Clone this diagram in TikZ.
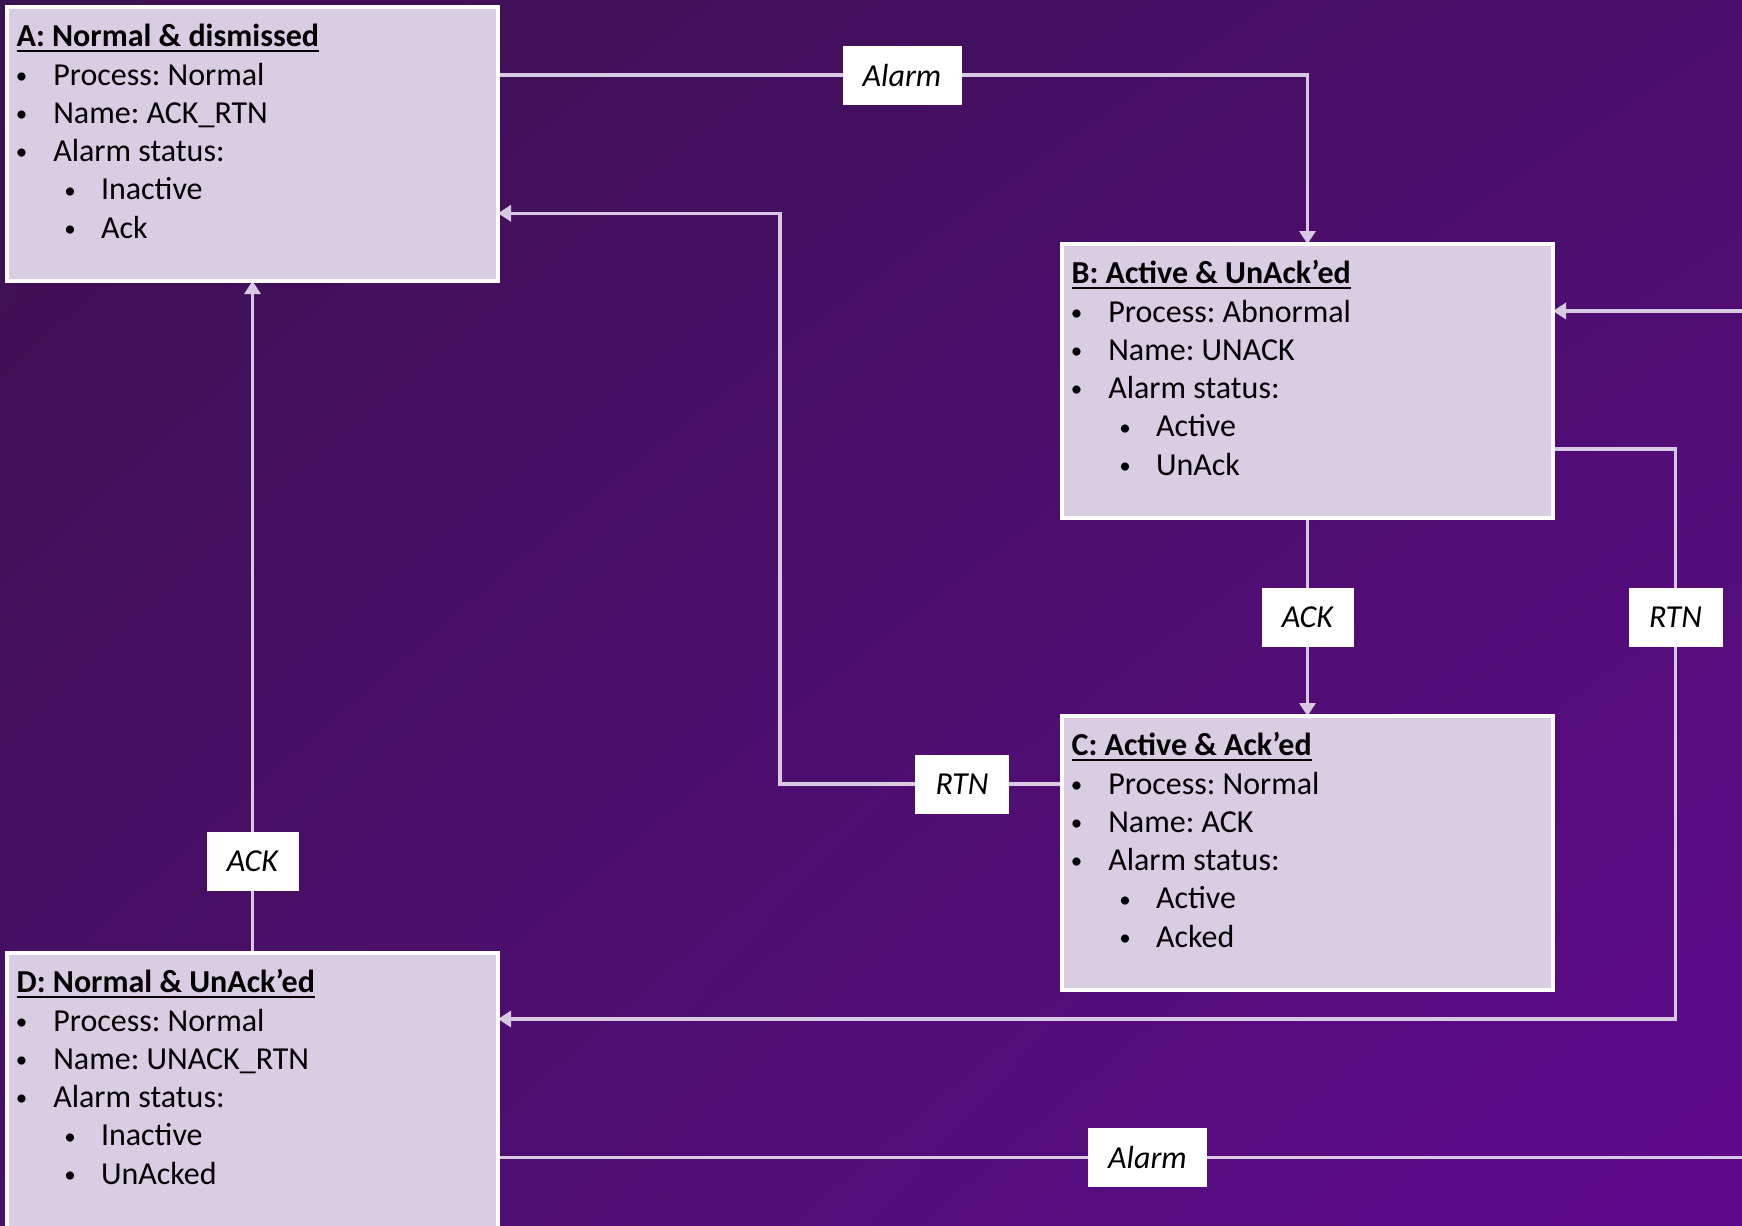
\documentclass[tikz,border=0pt]{standalone}
\usepackage{fontspec}
\setmainfont{Carlito}
\frenchspacing
\usetikzlibrary{arrows.meta,shadings}
\definecolor{bgA}{HTML}{3B1150}
\definecolor{bgB}{HTML}{4C0E6C}
\definecolor{bgC}{HTML}{4A0F68}
\definecolor{bgD}{HTML}{5F0A8D}
\definecolor{lineC}{HTML}{D6C9E1}
\definecolor{boxF}{HTML}{D8CDE2}
\pgfdeclarelayer{back}\pgfdeclarelayer{mid}\pgfsetlayers{back,mid,main}
\newcommand\ttl[1]{\setbox0\hbox{\bfseries #1}\rlap{\usebox0}\rule[-2.4pt]{\wd0}{0.85pt}}
\newcommand\smbul{\raisebox{0.9pt}{\scalebox{0.72}{•}}}
\newcommand\stline[5]{\node[txt] (#1) at ([shift={(#4,39.7+38.3*#3)}]#2.north west) {#5};}
\newcommand\stbul[4]{\node[txt,anchor=base] (#1) at ([shift={(#4,39.7+38.3*#3)}]#2.north west) {\smbul};}
\newcommand\statecontent[7]{%
  \stline{#1-t}{#1}{0}{9.7}{\ttl{#2}}
  \stbul{#1-b1}{#1}{1}{14.7}\stline{#1-l1}{#1}{1}{46.3}{#3}
  \stbul{#1-b2}{#1}{2}{14.7}\stline{#1-l2}{#1}{2}{46.3}{#4}
  \stbul{#1-b3}{#1}{3}{14.7}\stline{#1-l3}{#1}{3}{46.3}{#5}
  \stbul{#1-b4}{#1}{4}{63}\stline{#1-l4}{#1}{4}{94}{#6}
  \stbul{#1-b5}{#1}{5}{63}\stline{#1-l5}{#1}{5}{94}{#7}}
\begin{document}
\begin{tikzpicture}[x=0.5pt,y=-0.5pt,
  font=\fontsize{16}{19}\selectfont,
  statebox/.style={draw=white, line width=2pt, fill=boxF, inner sep=0pt, outer sep=0pt,
    minimum width=245.5pt, minimum height=137pt, anchor=north west},
  lbl/.style={fill=white, inner sep=0pt, outer sep=0pt, minimum height=29.5pt,
    font=\fontsize{16}{19}\selectfont\itshape},
  txt/.style={inner sep=0pt, outer sep=0pt, anchor=base west},
  conn/.style={draw=lineC, line width=1.6pt, -{Triangle[width=8pt,length=6.5pt]}}]
\useasboundingbox (0,0) rectangle (1742,1226);
\clip (0,0) rectangle (1742,1226);
\begin{pgfonlayer}{back}
\shade[upper left=bgA, upper right=bgB, lower left=bgC, lower right=bgD] (0,0) rectangle (1742,1226);
\end{pgfonlayer}

\node[statebox] (A) at (7,7) {};
\node[statebox] (B) at (1062,244) {};
\node[statebox] (C) at (1062,716) {};
\node[statebox, minimum height=150pt] (D) at (7,953) {};

\statecontent{A}{A: Normal \& dismissed}{Process: Normal}{Name: ACK\_RTN}{Alarm status:}{Inactive}{Ack}
\statecontent{B}{B: Active \& UnAck’ed}{Process: Abnormal}{Name: UNACK}{Alarm status:}{Active}{UnAck}
\statecontent{C}{C: Active \& Ack’ed}{Process: Normal}{Name: ACK}{Alarm status:}{Active}{Acked}
\statecontent{D}{D: Normal \& UnAck’ed}{Process: Normal}{Name: UNACK\_RTN}{Alarm status:}{Inactive}{UnAcked}

\node[lbl, minimum width=59.5pt] (alarm1) at (902,75) {Alarm};
\node[lbl, minimum width=47pt] (rtn1) at (962,784) {RTN};
\node[lbl, minimum width=46pt] (ack1) at (1307.5,617) {ACK};
\node[lbl, minimum width=47pt] (rtn2) at (1675.5,617) {RTN};
\node[lbl, minimum width=59.5pt] (alarm2) at (1147.5,1157.5) {Alarm};
\node[lbl, minimum width=46pt] (ack2) at (252.5,861) {ACK};

\coordinate (c2) at (780,213.3);
\coordinate (c4) at (1675.5,449);
\coordinate (c4b) at (1675.5,1019);
\coordinate (c5) at (1800,311);

\begin{pgfonlayer}{mid}
\draw[conn] (A.east |- alarm1) -- (B.north |- alarm1) -- (B.north);
\draw[conn] (C.west |- rtn1) -- (rtn1 -| c2) -- (c2) -- (A.east |- c2);
\draw[conn] (B.south) -- (C.north);
\draw[conn] (B.east |- c4) -- (c4) -- (c4b) -- (D.east |- c4b);
\draw[conn] (D.east |- alarm2) -- (alarm2 -| c5) -- (c5) -- (B.east |- c5);
\draw[conn] (D.north) -- (A.south);
\end{pgfonlayer}
\end{tikzpicture}
\end{document}
